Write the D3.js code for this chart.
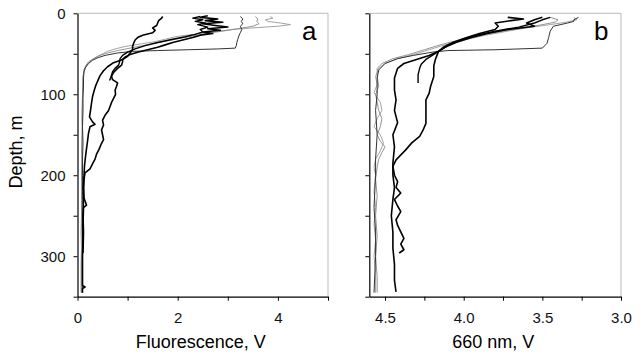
<!DOCTYPE html>
<html>
<head>
<meta charset="utf-8">
<script src="https://cdn.jsdelivr.net/npm/d3@7"></script>
<style>
  body { margin: 0; background: #fff; }
  svg { display: block; }
</style>
</head>
<body>
<svg width="644" height="357"></svg>
<script>
// depth (m) vs value pairs
const depthTicks = [0, 50, 100, 150, 200, 250, 300, 350];
const fluorTicks = [0, 1, 2, 3, 4, 5];
const nmTicks = [4.5, 4.25, 4.0, 3.75, 3.5, 3.25, 3.0];

// panel a: fluorescence, V
const fluor1 = [[4,3.85],[6,3.9],[8,3.75],[10,3.8],[12,4.05],[14,4.25],[16,4.0],[18,3.5],[20,3.1],[23,2.7],[26,2.3],[29,1.95],[32,1.75],[35,1.55],[38,1.25],[41,0.95],[44,0.75],[47,0.6],[50,0.5],[53,0.4],[57,0.3],[62,0.2],[68,0.15],[75,0.12],[82,0.11],[90,0.11],[100,0.1],[115,0.1],[130,0.09],[150,0.09],[170,0.08],[190,0.09],[210,0.08],[230,0.08],[250,0.08],[270,0.07],[290,0.08],[310,0.07],[330,0.07],[345,0.07]];
const fluor2 = [[4,3.55],[7,3.6],[10,3.58],[13,3.62],[16,3.5],[19,3.2],[22,2.9],[25,2.55],[28,2.3],[31,2.05],[34,1.8],[37,1.55],[40,1.3],[43,1.05],[46,0.8],[49,0.6],[52,0.45],[56,0.32],[60,0.22],[65,0.16],[70,0.13],[78,0.11],[88,0.1],[100,0.1],[120,0.09],[140,0.1],[160,0.09],[180,0.09],[200,0.08],[220,0.09],[240,0.08],[260,0.08],[280,0.09],[300,0.08],[320,0.08],[345,0.08]];
const fluor3 = [[4,3.25],[7,3.3],[10,3.27],[13,3.3],[16,3.25],[20,3.28],[24,3.25],[28,3.22],[32,3.2],[36,3.18],[40,3.17],[43,3.15],[44,2.8],[45,2.2],[46,1.6],[47,1.1],[49,0.8],[52,0.55],[55,0.4],[58,0.3],[62,0.22],[67,0.16],[72,0.13],[80,0.12],[90,0.12],[105,0.11],[120,0.11],[140,0.1],[160,0.11],[180,0.1],[200,0.1],[220,0.1],[240,0.11],[260,0.1],[280,0.1],[300,0.1],[320,0.1],[345,0.1]];
const fluor4 = [[3,2.6],[5,2.45],[7,2.8],[9,2.55],[11,2.9],[13,2.5],[15,2.75],[17,3.0],[19,2.6],[21,2.85],[23,2.5],[25,2.7],[27,2.45],[30,2.3],[33,2.1],[36,1.9],[39,1.75],[42,1.6],[45,1.4],[48,1.2],[51,1.05],[54,0.95],[57,0.9],[60,0.9],[64,0.88],[68,0.8],[73,0.72],[78,0.68],[82,0.7],[86,0.8],[90,0.78],[95,0.75],[100,0.76],[105,0.72],[110,0.68],[115,0.65],[120,0.62],[126,0.55],[132,0.5],[138,0.52],[144,0.48],[150,0.5],[156,0.52],[162,0.47],[168,0.43],[174,0.38],[180,0.35],[186,0.3],[192,0.25],[197,0.15],[205,0.13],[215,0.12],[230,0.12],[250,0.11],[270,0.12],[296,0.11]];
const fluor5 = [[4,1.7],[6,1.68],[9,1.62],[12,1.6],[15,1.58],[18,1.5],[21,1.55],[24,1.5],[27,1.3],[30,1.2],[33,1.15],[37,1.12],[41,1.1],[45,1.1],[49,1.05],[53,1.0],[57,0.9],[61,0.72],[66,0.6],[71,0.52],[77,0.45],[84,0.4],[90,0.36],[96,0.33],[103,0.3],[111,0.28],[120,0.26],[128,0.24],[134,0.3],[137,0.35],[140,0.25],[148,0.22],[158,0.2],[167,0.18],[177,0.16],[188,0.14],[200,0.13],[215,0.12],[228,0.13],[237,0.18],[240,0.12],[260,0.11],[280,0.11],[300,0.1],[320,0.1],[336,0.1],[338,0.15],[340,0.1],[345,0.1]];
const fluor6 = [[4,2.45],[6,2.3],[8,2.5],[10,2.35],[12,2.55],[14,2.4],[17,2.6],[20,2.45],[23,2.5],[26,2.35],[29,2.15],[32,1.9],[36,1.6],[40,1.35],[44,1.15],[48,1.0],[52,0.9],[56,0.85],[60,0.84],[64,0.82],[68,0.75],[72,0.7],[76,0.68],[80,0.66],[83,0.64]];

// panel b: 660 nm, V
const nm1 = [[5,3.3],[8,3.28],[11,3.35],[14,3.45],[18,3.6],[22,3.72],[27,3.86],[33,4.0],[39,4.12],[45,4.22],[51,4.32],[56,4.42],[62,4.5],[68,4.54],[78,4.56],[88,4.55],[98,4.57],[110,4.53],[120,4.52],[130,4.55],[140,4.57],[150,4.53],[160,4.51],[170,4.53],[180,4.56],[190,4.57],[200,4.56],[220,4.57],[240,4.56],[260,4.57],[280,4.56],[300,4.57],[320,4.56],[345,4.56]];
const nm2 = [[5,3.45],[8,3.4],[11,3.42],[14,3.5],[18,3.62],[22,3.75],[27,3.9],[33,4.03],[39,4.15],[45,4.25],[51,4.35],[56,4.45],[62,4.52],[68,4.55],[78,4.55],[90,4.54],[100,4.56],[110,4.55],[120,4.54],[130,4.52],[140,4.53],[150,4.55],[158,4.53],[165,4.5],[172,4.52],[180,4.54],[190,4.55],[205,4.56],[225,4.55],[250,4.56],[275,4.55],[300,4.56],[325,4.55],[345,4.55]];
const nm3 = [[5,3.27],[8,3.3],[10,3.3],[12,3.34],[16,3.43],[22,3.45],[30,3.46],[37,3.47],[43,3.5],[45,3.8],[46,4.1],[48,4.2],[52,4.32],[56,4.42],[62,4.5],[70,4.54],[80,4.55],[100,4.55],[120,4.56],[150,4.55],[180,4.56],[200,4.56],[240,4.57],[270,4.56],[300,4.56],[345,4.57]];
const nm4 = [[5,3.72],[7,3.62],[9,3.7],[12,3.8],[16,3.78],[20,3.8],[25,3.9],[30,3.98],[36,4.07],[42,4.13],[47,4.16],[52,4.17],[57,4.18],[65,4.19],[78,4.19],[90,4.21],[99,4.22],[107,4.24],[120,4.24],[136,4.24],[145,4.26],[152,4.28],[160,4.33],[169,4.37],[181,4.43],[189,4.45],[200,4.44],[208,4.42],[215,4.43],[222,4.4],[230,4.44],[238,4.42],[245,4.4],[255,4.43],[262,4.42],[270,4.4],[278,4.38],[285,4.4],[292,4.38],[296,4.41]];
const nm5 = [[5,3.5],[8,3.55],[12,3.6],[16,3.55],[20,3.72],[25,3.85],[30,3.95],[36,4.05],[42,4.12],[47,4.16],[52,4.22],[57,4.3],[62,4.38],[68,4.42],[80,4.44],[95,4.44],[107,4.43],[120,4.44],[135,4.42],[150,4.45],[165,4.44],[185,4.45],[200,4.45],[215,4.44],[230,4.45],[250,4.46],[270,4.45],[290,4.45],[310,4.44],[330,4.44],[344,4.43]];
const nm6 = [[5,3.45],[8,3.5],[12,3.55],[17,3.65],[22,3.8],[27,3.92],[33,4.02],[40,4.1],[47,4.16],[52,4.2],[57,4.24],[63,4.27],[68,4.28],[76,4.29],[86,4.29]];

const lineStyle = [
  {color: "#999", width: 0.9},
  {color: "#888", width: 0.9},
  {color: "#333", width: 1},
  {color: "#000", width: 1.6},
  {color: "#000", width: 1.6},
  {color: "#000", width: 1.4}
];

const svg = d3.select("svg");
const font = "Arial, 'Liberation Sans', sans-serif";

const y = d3.scaleLinear().domain([0, 350]).range([13.3, 296.7]);

function drawPanel(x, series, ticks, labelTicks, showDepth, title, letter, letterX) {
    const x0 = x.range()[0], x1 = x.range()[1];
    const g = svg.append("g").attr("font-family", font);

    // frame, grey on top and right
    g.append("path")
        .attr("d", `M${x0},${y(0)}H${x1}V${y(350)}`)
        .attr("fill", "none")
        .attr("stroke", "#bbb")
        .attr("stroke-width", 1);

    const line = d3.line().x(d => x(d[1])).y(d => y(d[0]));
    g.append("g")
        .attr("fill", "none")
        .attr("stroke-linejoin", "round")
        .selectAll("path")
        .data(series)
        .join("path")
        .attr("stroke", (d, i) => lineStyle[i].color)
        .attr("stroke-width", (d, i) => lineStyle[i].width)
        .attr("d", line);

    const yAxis = g.append("g")
        .attr("transform", `translate(${x0},0)`)
        .call(d3.axisLeft(y).tickValues(depthTicks).tickSize(4).tickSizeOuter(0).tickPadding(8)
            .tickFormat(d => showDepth && d % 100 === 0 ? d : ""));

    const xAxis = g.append("g")
        .attr("transform", `translate(0,${y(350)})`)
        .call(d3.axisBottom(x).tickValues(ticks).tickSize(4).tickSizeOuter(0).tickPadding(12)
            .tickFormat(d => labelTicks.includes(d) ? labelTicks.fmt(d) : ""));

    [yAxis, xAxis].forEach(a => {
        a.select(".domain").attr("stroke", "#000").attr("stroke-width", 1.2);
        a.selectAll(".tick line").attr("stroke", "#000");
        a.selectAll("text").attr("font-size", 15).attr("fill", "#111");
    });

    g.append("text")
        .attr("x", (x0 + x1) / 2 - 2)
        .attr("y", 348)
        .attr("text-anchor", "middle")
        .attr("font-size", 18)
        .text(title);

    g.append("text")
        .attr("x", letterX)
        .attr("y", 40)
        .attr("font-size", 26)
        .text(letter);
}

const xa = d3.scaleLinear().domain([0, 5]).range([77.5, 328]);
const aLabels = [0, 2, 4];
aLabels.fmt = d => d;
drawPanel(xa, [fluor1, fluor2, fluor3, fluor4, fluor5, fluor6], fluorTicks, aLabels, true,
    "Fluorescence, V", "a", 302);

const xb = d3.scaleLinear().domain([4.6, 3.0]).range([369.3, 621]);
const bLabels = [4.5, 4.0, 3.5, 3.0];
bLabels.fmt = d => d.toFixed(1);
drawPanel(xb, [nm1, nm2, nm3, nm4, nm5, nm6], nmTicks, bLabels, false,
    "660 nm, V", "b", 594);

svg.append("text")
    .attr("transform", "translate(22,152) rotate(-90)")
    .attr("text-anchor", "middle")
    .attr("font-family", font)
    .attr("font-size", 18)
    .text("Depth, m");
</script>
</body>
</html>
